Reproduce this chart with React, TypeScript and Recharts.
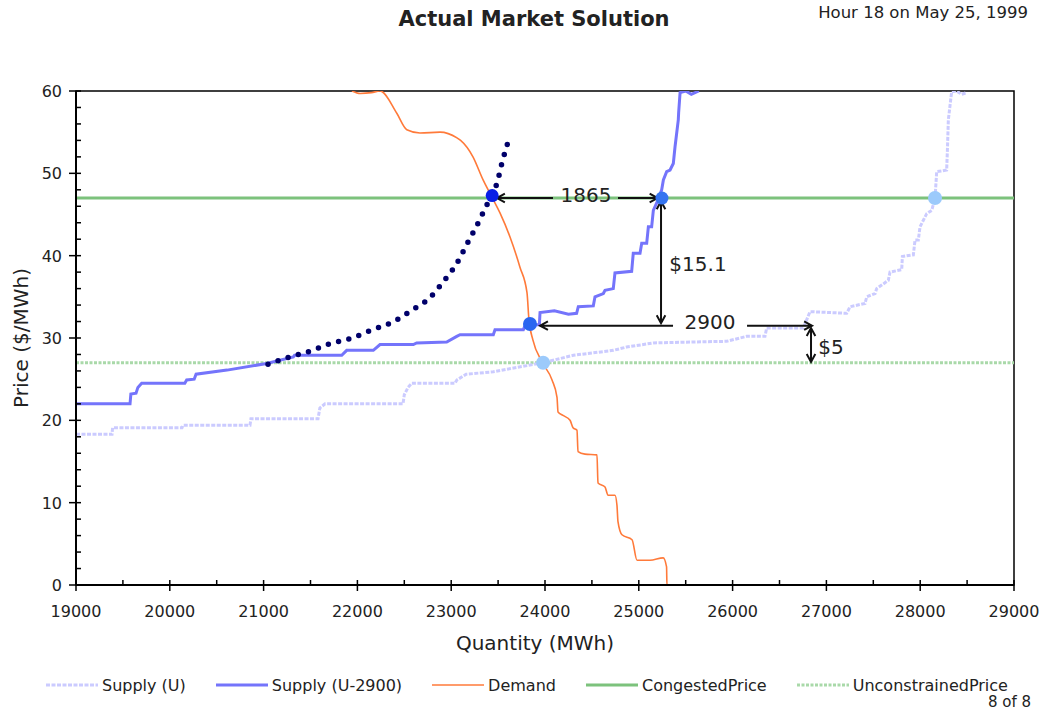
import React from 'react';
import {
  ComposedChart,
  Line,
  XAxis,
  YAxis,
  ReferenceLine,
  ReferenceDot,
  ReferenceArea,
  Legend,
  Label,
} from 'recharts';

const FONT = '"DejaVu Sans", Verdana, sans-serif';
const TEXT = '#222';

// ---------- axis ticks ----------
const xTicks = [
  19000, 19500, 20000, 20500, 21000, 21500, 22000, 22500, 23000, 23500, 24000,
  24500, 25000, 25500, 26000, 26500, 27000, 27500, 28000, 28500, 29000,
];
const xLabelTicks = [19000, 20000, 21000, 22000, 23000, 24000, 25000, 26000, 27000, 28000, 29000];
const yTicks = [
  0, 2, 4, 6, 8, 10, 12, 14, 16, 18, 20, 22, 24, 26, 28, 30, 32, 34, 36, 38, 40,
  42, 44, 46, 48, 50, 52, 54, 56, 58, 60,
];
const yLabelTicks = [0, 10, 20, 30, 40, 50, 60];

// ---------- series (quantity MWh, price $/MWh) ----------
const supplyU: [number, number][] = [
  [19000, 18.3], [19384, 18.3], [19390, 19.1], [20130, 19.1], [20140, 19.4], [20855, 19.4],
  [20865, 20.2], [21580, 20.2], [21600, 21.5], [21655, 22.0], [22486, 22.0], [22500, 23.1],
  [22540, 24.0], [22580, 24.5], [23040, 24.5], [23060, 24.9], [23160, 25.6], [23450, 25.9],
  [23980, 27.0], [24302, 27.9], [24728, 28.5], [24870, 28.9], [25155, 29.4], [25937, 29.6],
  [26150, 30.2], [26345, 30.2], [26363, 31.2], [26754, 31.2], [26825, 33.2], [27216, 33.0],
  [27252, 33.8], [27412, 34.2], [27430, 35.0], [27519, 35.4], [27536, 36.0], [27660, 37.0],
  [27678, 38.0], [27803, 38.3], [27810, 39.9], [27927, 40.1], [27945, 41.9], [27980, 41.9],
  [27998, 43.5], [28069, 45.1], [28123, 45.5], [28158, 47.0], [28176, 50.2], [28282, 50.4],
  [28290, 52.8], [28300, 56.5], [28335, 59.9], [28388, 60.0], [28440, 59.6], [28495, 59.8],
];

const supplyU2900: [number, number][] = [
  [19000, 22.0], [19576, 22.0], [19585, 23.2], [19640, 23.3], [19660, 24.0], [19700, 24.5],
  [20160, 24.5], [20180, 24.9], [20260, 25.0], [20280, 25.6], [20610, 26.1], [21033, 26.9],
  [21317, 27.7], [21330, 27.9], [21833, 27.9], [21886, 28.5], [22170, 28.5], [22241, 29.2],
  [22596, 29.2], [22632, 29.4], [22952, 29.5], [23059, 30.2], [23094, 30.4], [23449, 30.4],
  [23467, 31.0], [23769, 31.0], [23790, 31.6], [23940, 31.6], [23947, 33.1], [24100, 33.3],
  [24250, 32.9], [24337, 33.0], [24355, 33.8], [24515, 33.9], [24533, 35.0], [24622, 35.4],
  [24640, 35.8], [24728, 36.0], [24746, 37.9], [24924, 38.1], [24941, 40.3], [25013, 40.3],
  [25031, 41.5], [25084, 41.5], [25102, 43.5], [25137, 43.5], [25155, 45.5], [25191, 46.4],
  [25244, 48.0], [25262, 49.2], [25297, 50.2], [25333, 50.4], [25368, 51.2], [25386, 53.2],
  [25421, 56.5], [25425, 57.4], [25440, 59.8], [25500, 60.0], [25560, 59.6], [25640, 60.0],
];

const demand: [number, number][] = [
  [21942, 60.0], [22030, 59.7], [22150, 59.8], [22241, 60.0], [22420, 57.3], [22527, 55.3],
  [22667, 54.9], [22881, 55.0], [23062, 54.3], [23100, 54.0], [23232, 52.0], [23340, 49.2],
  [23435, 47.1], [23520, 45.2], [23626, 42.3], [23733, 38.6], [23808, 35.5], [23829, 32.2],
  [23870, 29.8], [23968, 27.1], [24075, 24.9], [24128, 22.8], [24139, 21.0], [24192, 20.6],
  [24267, 20.0], [24299, 19.1], [24341, 18.8], [24352, 16.2], [24426, 15.9], [24554, 15.8],
  [24565, 12.4], [24640, 11.9], [24672, 10.9], [24746, 10.9], [24767, 9.7], [24778, 7.7],
  [24821, 6.1], [24928, 5.5], [24981, 3.0], [25119, 3.0], [25260, 3.3], [25296, 2.2],
  [25300, 0.0], [25405, 0.0],
];

const shiftedCurve: [number, number][] = [
  [21047, 26.8], [21281, 27.7], [21495, 28.4], [21708, 29.3], [21942, 30.0], [22156, 31.0],
  [22369, 31.9], [22582, 33.4], [22774, 34.9], [22913, 36.8], [23062, 39.1], [23168, 41.4],
  [23275, 43.7], [23382, 46.2], [23435, 47.4], [23488, 48.8], [23542, 51.3], [23606, 53.8],
];

const congestedPrice: [number, number][] = [[19000, 47.0], [29000, 47.0]];
const unconstrainedPrice: [number, number][] = [[19000, 27.0], [29000, 27.0]];

// ---------- markers & annotations ----------
const markers: { q: number; p: number; color: string; r: number }[] = [
  { q: 23980, p: 27.0, color: '#9ccafb', r: 7 },
  { q: 28158, p: 47.0, color: '#9ccafb', r: 7 },
  { q: 23840, p: 31.7, color: '#2a66f0', r: 7 },
  { q: 25247, p: 47.0, color: '#3574f0', r: 6.5 },
  { q: 23437, p: 47.3, color: '#0a1ee6', r: 6.5 },
];

const arrows: { from: [number, number]; to: [number, number]; start: boolean; end: boolean }[] = [
  { from: [23488, 47.0], to: [24085, 47.0], start: true, end: false },
  { from: [24778, 47.0], to: [25200, 47.0], start: false, end: true },
  { from: [25237, 46.6], to: [25237, 31.8], start: true, end: true },
  { from: [23947, 31.5], to: [25365, 31.5], start: true, end: false },
  { from: [26154, 31.5], to: [26847, 31.5], start: false, end: true },
  { from: [26836, 31.2], to: [26836, 27.1], start: true, end: true },
];

const annotations: { q: number; p: number; text: string }[] = [
  { q: 24437, p: 47.4, text: '1865' },
  { q: 25759, p: 32.0, text: '2900' },
  { q: 25631, p: 39.0, text: '$15.1' },
  { q: 27049, p: 28.9, text: '$5' },
];

const toRows = (pts: [number, number][]) => pts.map(([q, p]) => ({ q, p }));

type SeriesCfg = {
  name: string;
  data: [number, number][];
  color: string;
  width: number;
  dash?: string;
  curve: 'linear' | 'monotone';
};

const series: SeriesCfg[] = [
  { name: 'Supply (U)', data: supplyU, color: '#cbcbff', width: 3, dash: '4 1.5', curve: 'linear' },
  { name: 'Supply (U-2900)', data: supplyU2900, color: '#7474fb', width: 3, curve: 'linear' },
  { name: 'Demand', data: demand, color: '#ff7a3a', width: 1.6, curve: 'monotone' },
  { name: 'CongestedPrice', data: congestedPrice, color: '#7cc27c', width: 3, curve: 'linear' },
  { name: 'UnconstrainedPrice', data: unconstrainedPrice, color: '#a9d9a9', width: 3, dash: '3 1.5', curve: 'linear' },
];

const drawOrder = ['UnconstrainedPrice', 'CongestedPrice', 'Supply (U)', 'Supply (U-2900)', 'Demand'];

// ---------- custom renderers ----------
const XTick = (props: any) => {
  const { x, y, payload } = props;
  const v = payload.value as number;
  const major = xLabelTicks.includes(v);
  return (
    <g>
      <line x1={x} x2={x} y1={y - 5} y2={major ? y + 6 : y} stroke="#000" strokeWidth={1.5} />
      {major && (
        <text x={x} y={y + 32} textAnchor="middle" fontSize={16} fill={TEXT} fontFamily={FONT}>
          {v}
        </text>
      )}
    </g>
  );
};

const YTick = (props: any) => {
  const { x, y, payload } = props;
  const v = payload.value as number;
  const major = yLabelTicks.includes(v);
  return (
    <g>
      <line x1={major ? x - 7 : x} x2={x + 5} y1={y} y2={y} stroke="#000" strokeWidth={1.5} />
      {major && (
        <text x={x - 14} y={y + 6} textAnchor="end" fontSize={16} fill={TEXT} fontFamily={FONT}>
          {v}
        </text>
      )}
    </g>
  );
};

const arrowShape = (startHead: boolean, endHead: boolean) => (props: any) => {
  const { x1, y1, x2, y2 } = props;
  if (![x1, y1, x2, y2].every((n) => typeof n === 'number' && isFinite(n))) return <g />;
  const ang = Math.atan2(y2 - y1, x2 - x1);
  const L = 9;
  const w = 0.5;
  const head = (x: number, y: number, a: number) =>
    `M${x - L * Math.cos(a - w)},${y - L * Math.sin(a - w)} L${x},${y} L${x - L * Math.cos(a + w)},${y - L * Math.sin(a + w)}`;
  let d = `M${x1},${y1} L${x2},${y2}`;
  if (endHead) d += ' ' + head(x2, y2, ang);
  if (startHead) d += ' ' + head(x1, y1, ang + Math.PI);
  return <path d={d} stroke="#111" strokeWidth={2} fill="none" strokeLinejoin="miter" />;
};

const renderXLabel = (props: any) => {
  const vb = props.viewBox || { y: 585 };
  return (
    <text x={535} y={vb.y + 65} textAnchor="middle" fontSize={20} fill={TEXT} fontFamily={FONT}>
      Quantity (MWh)
    </text>
  );
};

const renderYLabel = (props: any) => {
  const vb = props.viewBox || { y: 91, height: 494 };
  const cy = vb.y + vb.height / 2;
  return (
    <text
      transform={`translate(28, ${cy}) rotate(-90)`}
      textAnchor="middle"
      fontSize={20}
      fill={TEXT}
      fontFamily={FONT}
    >
      Price ($/MWh)
    </text>
  );
};

const renderLegend = () => (
  <div
    style={{
      display: 'flex',
      alignItems: 'center',
      height: 30,
      paddingLeft: 46,
      fontFamily: FONT,
      fontSize: 16,
      color: TEXT,
      whiteSpace: 'nowrap',
    }}
  >
    {series.map((s) => (
      <div key={s.name} style={{ display: 'flex', alignItems: 'center', marginRight: 30 }}>
        <svg width={52} height={10} style={{ display: 'block' }}>
          <line x1={0} x2={52} y1={5} y2={5} stroke={s.color} strokeWidth={s.width} strokeDasharray={s.dash} />
        </svg>
        <span style={{ marginLeft: 4 }}>{s.name}</span>
      </div>
    ))}
  </div>
);

export default function App() {
  const ordered = drawOrder.map((n) => series.find((s) => s.name === n)!);
  return (
    <div
      style={{
        position: 'absolute',
        left: 0,
        top: 0,
        width: 1044,
        height: 715,
        background: '#fff',
        fontFamily: FONT,
        overflow: 'hidden',
      }}
    >
      <ComposedChart width={1044} height={715} margin={{ top: 91, right: 30, bottom: 0, left: 0 }}>
        <XAxis
          xAxisId="q"
          dataKey="q"
          type="number"
          domain={[19000, 29000]}
          ticks={xTicks}
          interval={0}
          tickSize={0}
          tickMargin={0}
          tickLine={false}
          tick={XTick}
          axisLine={{ stroke: '#000', strokeWidth: 2 }}
          height={100}
          allowDataOverflow
        >
          <Label content={renderXLabel} />
        </XAxis>
        <YAxis
          yAxisId="p"
          dataKey="p"
          type="number"
          domain={[0, 60]}
          ticks={yTicks}
          interval={0}
          tickSize={0}
          tickMargin={0}
          tickLine={false}
          tick={YTick}
          axisLine={{ stroke: '#000', strokeWidth: 2 }}
          width={76}
          allowDataOverflow
        >
          <Label content={renderYLabel} />
        </YAxis>
        <ReferenceArea
          xAxisId="q"
          yAxisId="p"
          x1={19000}
          x2={29000}
          y1={0}
          y2={60}
          fill="none"
          fillOpacity={0}
          stroke="#000"
          strokeWidth={1.5}
          ifOverflow="visible"
        />
        {ordered.map((s) => (
          <Line
            key={s.name}
            name={s.name}
            xAxisId="q"
            yAxisId="p"
            data={toRows(s.data)}
            dataKey="p"
            type={s.curve}
            stroke={s.color}
            strokeWidth={s.width}
            strokeDasharray={s.dash}
            dot={false}
            activeDot={false}
            isAnimationActive={false}
          />
        ))}
        <Line
          name="Shifted demand"
          xAxisId="q"
          yAxisId="p"
          data={toRows(shiftedCurve)}
          dataKey="p"
          type="monotone"
          stroke="#00006a"
          strokeWidth={5.5}
          strokeDasharray="0 10.6"
          strokeLinecap="round"
          dot={false}
          activeDot={false}
          legendType="none"
          isAnimationActive={false}
        />
        {arrows.map((a, i) => (
          <ReferenceLine
            key={'arrow' + i}
            xAxisId="q"
            yAxisId="p"
            segment={[
              { x: a.from[0], y: a.from[1] },
              { x: a.to[0], y: a.to[1] },
            ]}
            stroke="#111"
            strokeWidth={2}
            shape={arrowShape(a.start, a.end)}
          />
        ))}
        {markers.map((m, i) => (
          <ReferenceDot
            key={'m' + i}
            xAxisId="q"
            yAxisId="p"
            x={m.q}
            y={m.p}
            r={m.r}
            fill={m.color}
            stroke="none"
          />
        ))}
        {annotations.map((a, i) => (
          <ReferenceDot
            key={'t' + i}
            xAxisId="q"
            yAxisId="p"
            x={a.q}
            y={a.p}
            r={0}
            fill="none"
            stroke="none"
            label={{
              value: a.text,
              position: 'center',
              fontSize: 20,
              fill: TEXT,
              fontFamily: FONT,
            }}
          />
        ))}
        <Legend
          verticalAlign="bottom"
          height={30}
          content={renderLegend}
          wrapperStyle={{ position: 'absolute', left: 0, top: 670, bottom: 'auto', width: 1044, height: 30 }}
        />
      </ComposedChart>
      <div
        style={{
          position: 'absolute',
          left: 534,
          top: 9,
          transform: 'translateX(-50%)',
          fontSize: 21,
          lineHeight: '21px',
          fontWeight: 'bold',
          color: TEXT,
          whiteSpace: 'nowrap',
        }}
      >
        Actual Market Solution
      </div>
      <div
        style={{
          position: 'absolute',
          right: 16,
          top: 5,
          fontSize: 16.5,
          lineHeight: '16px',
          color: TEXT,
          whiteSpace: 'nowrap',
        }}
      >
        Hour 18 on May 25, 1999
      </div>
      <div
        style={{
          position: 'absolute',
          right: 13,
          top: 695,
          fontSize: 15,
          lineHeight: '15px',
          color: TEXT,
          whiteSpace: 'nowrap',
        }}
      >
        8 of 8
      </div>
    </div>
  );
}
